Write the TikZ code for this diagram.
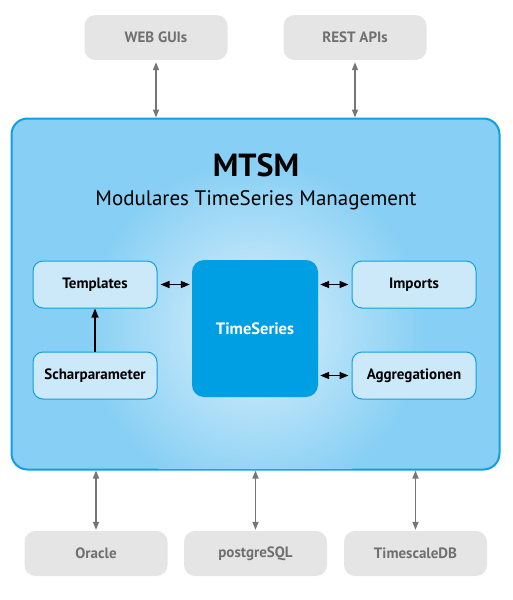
\documentclass[tikz,border=0pt]{standalone}
\usepackage{fontspec}
\setmainfont{PT Sans}
\usetikzlibrary{arrows.meta}
\definecolor{mainblue}{HTML}{87CFF4}
\definecolor{edgeblue}{HTML}{129FE0}
\definecolor{paleblue}{HTML}{CCE9FA}
\definecolor{deepblue}{HTML}{009FE3}
\definecolor{boxgray}{HTML}{E5E5E5}
\definecolor{textgray}{HTML}{707070}
\definecolor{arrowgray}{HTML}{767676}
\tikzset{
  outerbox/.style={draw=none,fill=boxgray,rounded corners=11pt,minimum width=143pt,minimum height=45pt,inner sep=0pt,text=textgray,font=\fontsize{15}{18}\selectfont\bfseries},
  modbox/.style={draw=edgeblue,line width=1pt,fill=paleblue,rounded corners=10pt,minimum width=124pt,minimum height=47pt,inner sep=0pt,font=\fontsize{15}{18}\selectfont\bfseries},
  grayarrow/.style={draw=arrowgray,line width=1.5pt,{Triangle[length=8pt,width=6pt]}-{Triangle[length=8pt,width=6pt]}},
  blackarrow/.style={draw=black,line width=1.5pt,{Triangle[length=9pt,width=7pt]}-{Triangle[length=9pt,width=7pt]}}
}
\begin{document}
\begin{tikzpicture}[x=1pt,y=-1pt]
    \useasboundingbox (0,0) rectangle (513,600);
    \node[outerbox] (web) at (156,37.5) {WEB GUIs};
    \node[outerbox] (rest) at (355,37.5) {REST APIs};
    \node[draw=edgeblue,line width=2pt,fill=mainblue,rounded corners=16pt,minimum width=488pt,minimum height=351pt] (mtsm) at (255.5,294) {};
    \begin{scope}
      \clip[rounded corners=15pt] (12,119) rectangle (499,469);
      \shade[inner color=white!70!mainblue,outer color=mainblue] (255,329) circle (170pt);
    \end{scope}
    \node[font=\fontsize{32}{36}\selectfont\bfseries] (title) at (256,165) {MTSM};
    \node[font=\fontsize{21}{25}\selectfont] (subtitle) at (256,200) {Modulares TimeSeries Management};
    \node[fill=deepblue,rounded corners=12pt,minimum width=126pt,minimum height=137pt,text=white,font=\fontsize{16.5}{20}\selectfont\bfseries] (ts) at (255,328.5) {TimeSeries};
    \node[modbox] (tmpl) at (95,284.5) {Templates};
    \node[modbox] (schar) at (95,375.5) {Scharparameter};
    \node[modbox] (imp) at (414,284.5) {Imports};
    \node[modbox] (aggr) at (414,375.5) {Aggregationen};
    \node[outerbox] (ora) at (96,553.5) {Oracle};
    \node[outerbox] (pg) at (255.5,553.5) {postgreSQL};
    \node[outerbox] (tsdb) at (415.5,553.5) {TimescaleDB};
    \draw[grayarrow,shorten <=2pt] (web.south) -- (web.south |- mtsm.north);
    \draw[grayarrow,shorten <=2pt] (rest.south) -- (rest.south |- mtsm.north);
    \draw[grayarrow,shorten >=1pt] (mtsm.south -| ora.north) -- (ora.north);
    \draw[grayarrow,shorten >=1pt] (mtsm.south -| pg.north) -- (pg.north);
    \draw[grayarrow,shorten >=1pt] (mtsm.south -| tsdb.north) -- (tsdb.north);
    \draw[blackarrow,shorten <=3pt,shorten >=2pt] (tmpl.east) -- (tmpl.east -| ts.west);
    \draw[blackarrow,shorten <=3pt,shorten >=2pt] (imp.west) -- (imp.west -| ts.east);
    \draw[blackarrow,shorten <=3pt,shorten >=2pt] (aggr.west) -- (aggr.west -| ts.east);
    \draw[blackarrow,line width=1.2pt,-{Triangle[length=9pt,width=7pt]}] (schar.north) -- (tmpl.south);
\end{tikzpicture}
\end{document}
